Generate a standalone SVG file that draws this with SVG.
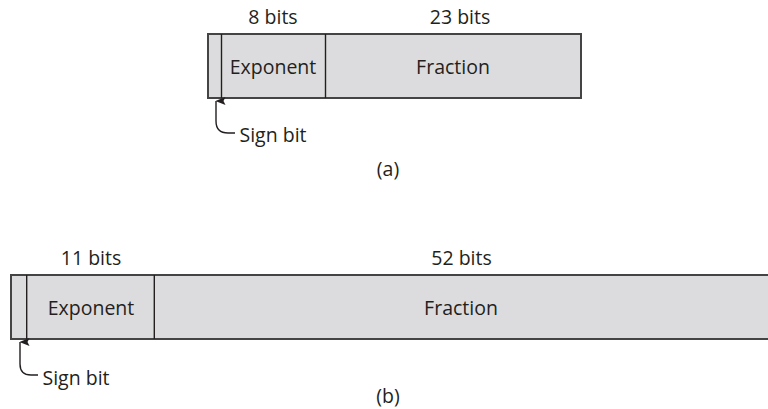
<svg xmlns="http://www.w3.org/2000/svg" width="768" height="409" viewBox="0 0 768 409">
<style>
text{font-family:"Open Sans","Liberation Sans",sans-serif;font-size:19.5px;fill:#231f20;text-anchor:middle}
.box{fill:#dcdcde;stroke:#444;stroke-width:2}
.div{stroke:#231f20;stroke-width:1.4}
.lead{fill:none;stroke:#231f20;stroke-width:1.4}
</style>
<defs>
<marker id="ah" markerWidth="8" markerHeight="10" refX="4" refY="0.5" orient="auto-start-reverse" markerUnits="userSpaceOnUse" viewBox="0 0 8 10">
<path d="M4,0 L8,10 L4,8 L0,10 Z" fill="#231f20"/>
</marker>
</defs>
<g id="format-a">
<rect class="box" x="208" y="34" width="373" height="64"/>
<line class="div" x1="221.5" y1="34" x2="221.5" y2="98"/>
<line class="div" x1="325.5" y1="34" x2="325.5" y2="98"/>
<text x="273" y="23.5">8 bits</text>
<text x="460" y="23.5">23 bits</text>
<text x="273" y="73.5">Exponent</text>
<text x="453" y="73.5">Fraction</text>
<text x="273" y="142" text-anchor="middle">Sign bit</text>
<text x="388" y="176">(a)</text>
</g>
<g id="format-b">
<rect class="box" x="11" y="275" width="770" height="64"/>
<line class="div" x1="26.7" y1="275" x2="26.7" y2="339"/>
<line class="div" x1="154.3" y1="275" x2="154.3" y2="339"/>
<text x="91" y="265">11 bits</text>
<text x="461.5" y="265">52 bits</text>
<text x="91" y="315">Exponent</text>
<text x="461" y="315">Fraction</text>
<text x="76" y="385">Sign bit</text>
<text x="388" y="403">(b)</text>
</g>
<g id="connectors">
<path class="lead" d="M235,133 L228,133 Q216,133 216,121 L216,101" marker-end="url(#ah)"/>
<path class="lead" d="M38,375 L31,375 Q20,375 20,364 L20,342" marker-end="url(#ah)"/>
</g>
</svg>
